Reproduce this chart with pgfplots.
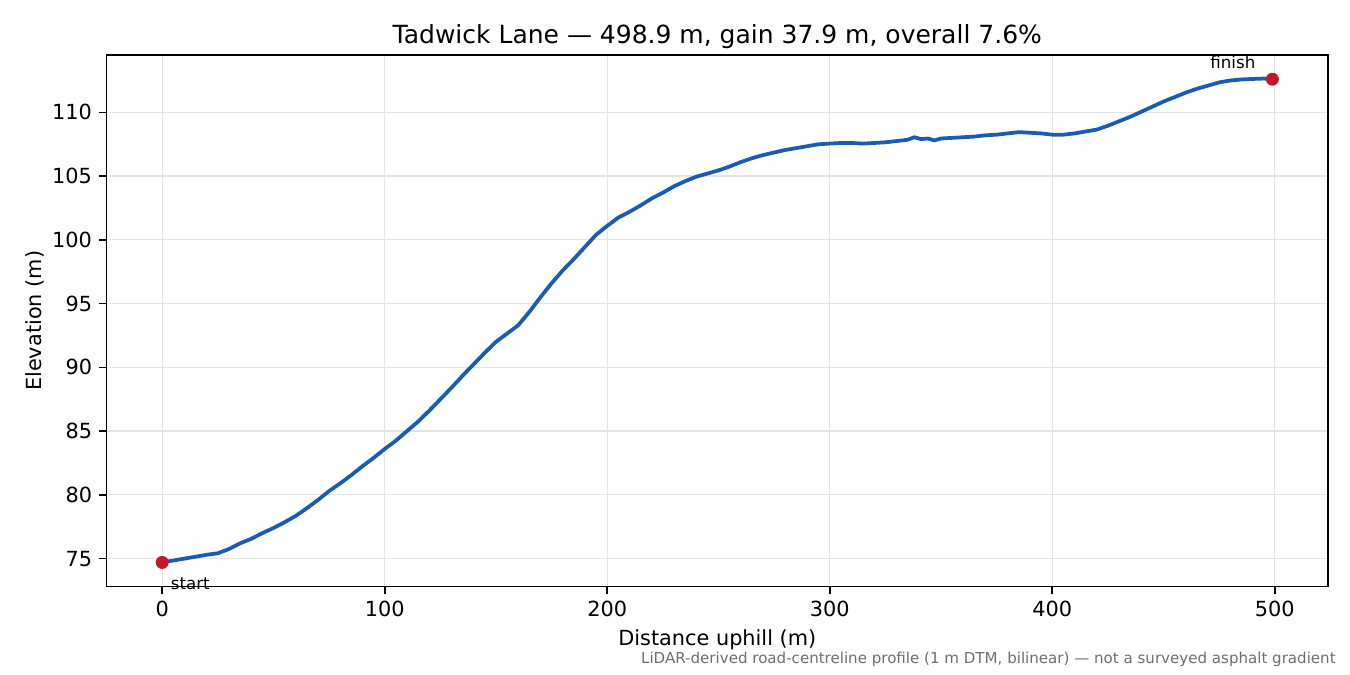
\documentclass[border=0pt]{standalone}
\usepackage{fontspec}
\setmainfont{DejaVu Sans}
\usepackage{pgfplots}
\usepackage{pgfplotstable}
\pgfplotsset{compat=1.18}
\definecolor{lineblue}{RGB}{26,92,178}
\definecolor{dotred}{RGB}{193,25,42}
\definecolor{gridgray}{RGB}{228,228,228}
\definecolor{notegray}{RGB}{110,110,110}
\pgfplotstableread{
d e
0 74.70
5 74.85
10 75.00
15 75.15
20 75.30
25 75.42
30 75.75
35 76.20
40 76.55
45 77.00
50 77.40
55 77.85
60 78.35
65 78.95
70 79.60
75 80.30
80 80.90
85 81.55
90 82.25
95 82.90
100 83.60
105 84.25
110 85.00
115 85.75
120 86.60
125 87.50
130 88.40
135 89.35
140 90.25
145 91.15
150 92.00
155 92.65
160 93.30
165 94.35
170 95.50
175 96.60
180 97.60
185 98.50
190 99.45
195 100.40
200 101.10
205 101.75
210 102.20
215 102.70
220 103.25
225 103.70
230 104.20
235 104.60
240 104.95
245 105.20
250 105.45
255 105.75
260 106.10
265 106.40
270 106.65
275 106.85
280 107.05
285 107.20
290 107.35
295 107.50
300 107.55
305 107.60
310 107.60
315 107.55
320 107.60
325 107.65
330 107.75
335 107.85
338 108.05
341 107.90
344 107.95
347 107.80
350 107.95
355 108.00
360 108.05
365 108.10
370 108.20
375 108.25
380 108.35
385 108.45
390 108.40
395 108.35
400 108.25
405 108.25
410 108.35
415 108.50
420 108.65
425 108.95
430 109.30
435 109.65
440 110.05
445 110.45
450 110.85
455 111.20
460 111.55
465 111.85
470 112.10
475 112.35
480 112.50
485 112.58
490 112.62
495 112.65
498.9 112.60
}\profile
\begin{document}
\begin{tikzpicture}
\path[use as bounding box] (0,0) rectangle (648pt,324pt);
\begin{axis}[
  at={(51.2pt,42.4pt)}, anchor=south west,
  scale only axis, width=586.2pt, height=255.2pt,
  xmin=-24.95, xmax=523.85, ymin=72.8, ymax=114.5,
  xtick={0,100,200,300,400,500}, ytick={75,80,85,90,95,100,105,110},
  tick align=outside, major tick length=3.5pt,
  tick style={black, line width=0.8pt},
  axis line style={line width=0.8pt},
  xtick pos=bottom, ytick pos=left,
  grid=major, grid style={gridgray, line width=0.6pt},
  /pgf/number format/assume math mode=true,
  ticklabel style={font=\fontsize{10}{12}\selectfont},
  title={Tadwick Lane — 498.9 m, gain 37.9 m, overall 7.6\%},
  title style={at={(axis description cs:0.5,1)}, anchor=south, yshift=-3.1pt, inner sep=0pt, font=\fontsize{12}{14}\selectfont},
  xlabel={Distance uphill (m)},
  xlabel style={at={(axis description cs:0.5,-0.1003)}, anchor=center, font=\fontsize{10}{12}\selectfont},
  ylabel={Elevation (m)},
  ylabel style={at={(axis description cs:-0.0587,0.5)}, anchor=center, font=\fontsize{10}{12}\selectfont},
  clip=false,
]
\addplot[lineblue, line width=1.8pt, line join=round] table[x=d, y=e] {\profile};
\addplot[only marks, mark=*, mark size=2.9pt, dotred, mark options={draw=dotred, fill=dotred}] coordinates {(0,74.7) (498.9,112.6)};
\node[anchor=base west, font=\fontsize{8}{9.6}\selectfont, inner sep=0pt, xshift=4pt, yshift=-12.8pt] at (axis cs:0,74.7) {start};
\node[anchor=base east, font=\fontsize{8}{9.6}\selectfont, inner sep=0pt, xshift=-8pt, yshift=5pt] at (axis cs:498.9,112.6) {finish};
\end{axis}
\node[anchor=base east, inner sep=0pt, text=notegray, font=\fontsize{7.23}{8.6}\selectfont] at (641.3pt,5.3pt) {LiDAR-derived road-centreline profile (1 m DTM, bilinear) — not a surveyed asphalt gradient};
\end{tikzpicture}
\end{document}
